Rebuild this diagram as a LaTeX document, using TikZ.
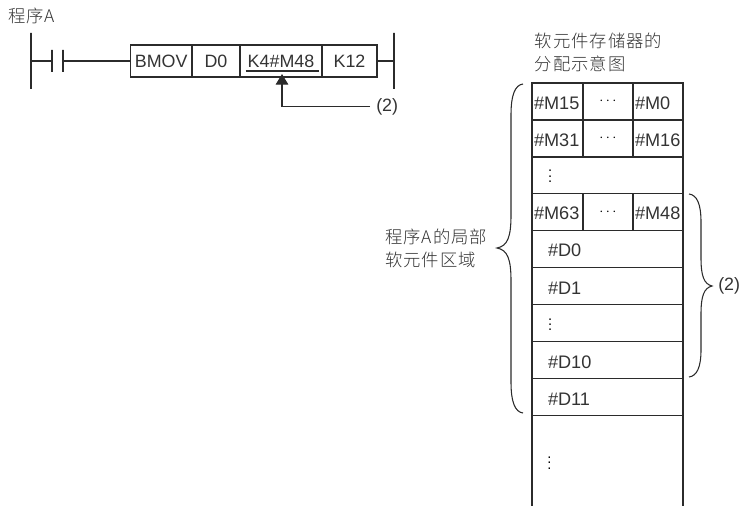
\documentclass[tikz,border=0pt]{standalone}
\usepackage{fontspec}
\setmainfont{Liberation Sans}
\newfontfamily\cjkwide{Noto Sans CJK SC Light}[LetterSpace=6]
\usetikzlibrary{arrows.meta}
\definecolor{inkline}{HTML}{2b2b2b}
\definecolor{inktext}{HTML}{333333}
\tikzset{
  vbar/.style={draw=inkline, line width=0.8pt, minimum width=0pt, minimum height=#1, inner sep=0pt, outer sep=0pt},
  ladderbox/.style={draw=inkline, line width=0.9pt, minimum height=24pt, inner sep=0pt, outer sep=0pt, text width=#1, align=center, text height=10.4pt, text depth=0pt, font=\fontsize{13.4}{15}\selectfont, text=inktext},
  cell/.style={draw=inkline, line width=0.9pt, minimum height=27.75pt, inner xsep=1.5pt, inner ysep=0pt, outer sep=0pt, text width=#1, align=left, text height=12pt, text depth=0pt, font=\fontsize{13.6}{15}\selectfont, text=inktext},
  widecell/.style={cell=89.25pt, inner xsep=12pt},
  dotscell/.style={draw=inkline, line width=0.9pt, minimum height=27.75pt, inner sep=0pt, outer sep=0pt, minimum width=37.5pt, text=black, font=\fontsize{11}{11}\selectfont},
  vdotscell/.style={widecell, text height=11.5pt, text depth=0pt, text=black, font=\fontsize{11}{11}\selectfont},
  label/.style={inner sep=0pt, text=inktext, font=\fontsize{13.4}{15}\selectfont},
  note/.style={inner sep=0pt, anchor=west, align=left, text=inktext, font=\fontsize{13}{17.25}\selectfont},
  link/.style={draw=inkline, line width=0.8pt}
}
\begin{document}
\begin{tikzpicture}[x=0.75pt,y=-0.75pt]
    \useasboundingbox (0,0) rectangle (743,506);
    % program rung
    \node[note] (progName) at (8,16) {\cjkwide 程序A};
    \node[vbar=42pt] (railL) at (31,61) {};
    \node[vbar=42pt] (railR) at (394,61) {};
    \node[vbar=16.5pt] (contactL) at (52,61) {};
    \node[vbar=16.5pt] (contactR) at (63,61) {};
    \node[ladderbox=46.5pt] (cmd) at (161.25,61) {BMOV};
    \node[ladderbox=36pt] (srcDev) at (216,61) {D0};
    \node[ladderbox=61.5pt] (dstDev) at (281,61) {K4\#M48};
    \node[ladderbox=41.25pt] (num) at (349.5,61) {K12};
    \draw[link] (railL) -- (contactL);
    \draw[link] (contactR) -- (cmd.west);
    \draw[link] (num.east) -- (railR);
    \coordinate (ulineL) at (245.5,71);
    \coordinate (ulineR) at (319,71);
    \draw[link, line width=1pt] (ulineL) -- (ulineR);
    \coordinate (arrowTip) at (282,74);
    \node[label, anchor=west] (noteTop) at (376,106.5) {(2)};
    \draw[link, -{Triangle[width=9.5pt,length=8pt]}] ([xshift=-4.5pt]noteTop.west) -| (arrowTip);
    % memory map
    \node[note] (mapTitle) at (534.5,52.5) {\cjkwide 软元件存储器的\\\cjkwide 分配示意图};
    \node[cell=35.25pt] (m15) at (557.5,101.5) {\#M15};
    \node[dotscell] (row1dots) at (608,101.5) {$\cdots$};
    \node[cell=34.5pt] (m0) at (658,101.5) {\#M0};
    \node[cell=35.25pt] (m31) at (557.5,138.5) {\#M31};
    \node[dotscell] (row2dots) at (608,138.5) {$\cdots$};
    \node[cell=34.5pt] (m16) at (658,138.5) {\#M16};
    \node[vdotscell] (gapM) at (607.5,175) {$\vdots$};
    \node[cell=35.25pt] (m63) at (557.5,212) {\#M63};
    \node[dotscell] (row4dots) at (608,212) {$\cdots$};
    \node[cell=34.5pt] (m48) at (658,212) {\#M48};
    \node[widecell] (d0) at (607.5,249) {\#D0};
    \node[widecell] (d1) at (607.5,286) {\#D1};
    \node[vdotscell] (gapD) at (607.5,323) {$\vdots$};
    \node[widecell] (d10) at (607.5,360) {\#D10};
    \node[widecell] (d11) at (607.5,397) {\#D11};
    \coordinate (endL) at (532,506);
    \coordinate (endR) at (683,506);
    \draw[link] (d11.south west) -- (endL);
    \draw[link] (d11.south east) -- (endR);
    \node[label, text=black, font=\fontsize{11}{11}\selectfont] (gapEnd) at (549.5,459) {$\vdots$};
    % braces
    \draw[link] (523,84) .. controls (515,85) and (511,95) .. (511,115) -- (511,215)
      .. controls (511,236) and (508,246) .. (497,248)
      .. controls (508,250) and (511,260) .. (511,281) -- (511,382)
      .. controls (511,402) and (515,412) .. (523,413);
    \draw[link] (689,194) .. controls (697,195) and (701,204) .. (701,222) -- (701,258)
      .. controls (701,276) and (704,284) .. (712,286)
      .. controls (704,288) and (701,296) .. (701,314) -- (701,350)
      .. controls (701,367) and (697,376) .. (689,377);
    \node[note] (areaName) at (385,248) {\cjkwide 程序A的局部\\\cjkwide 软元件区域};
    \node[label, anchor=west] (noteBrace) at (718,285.5) {(2)};
\end{tikzpicture}
\end{document}
